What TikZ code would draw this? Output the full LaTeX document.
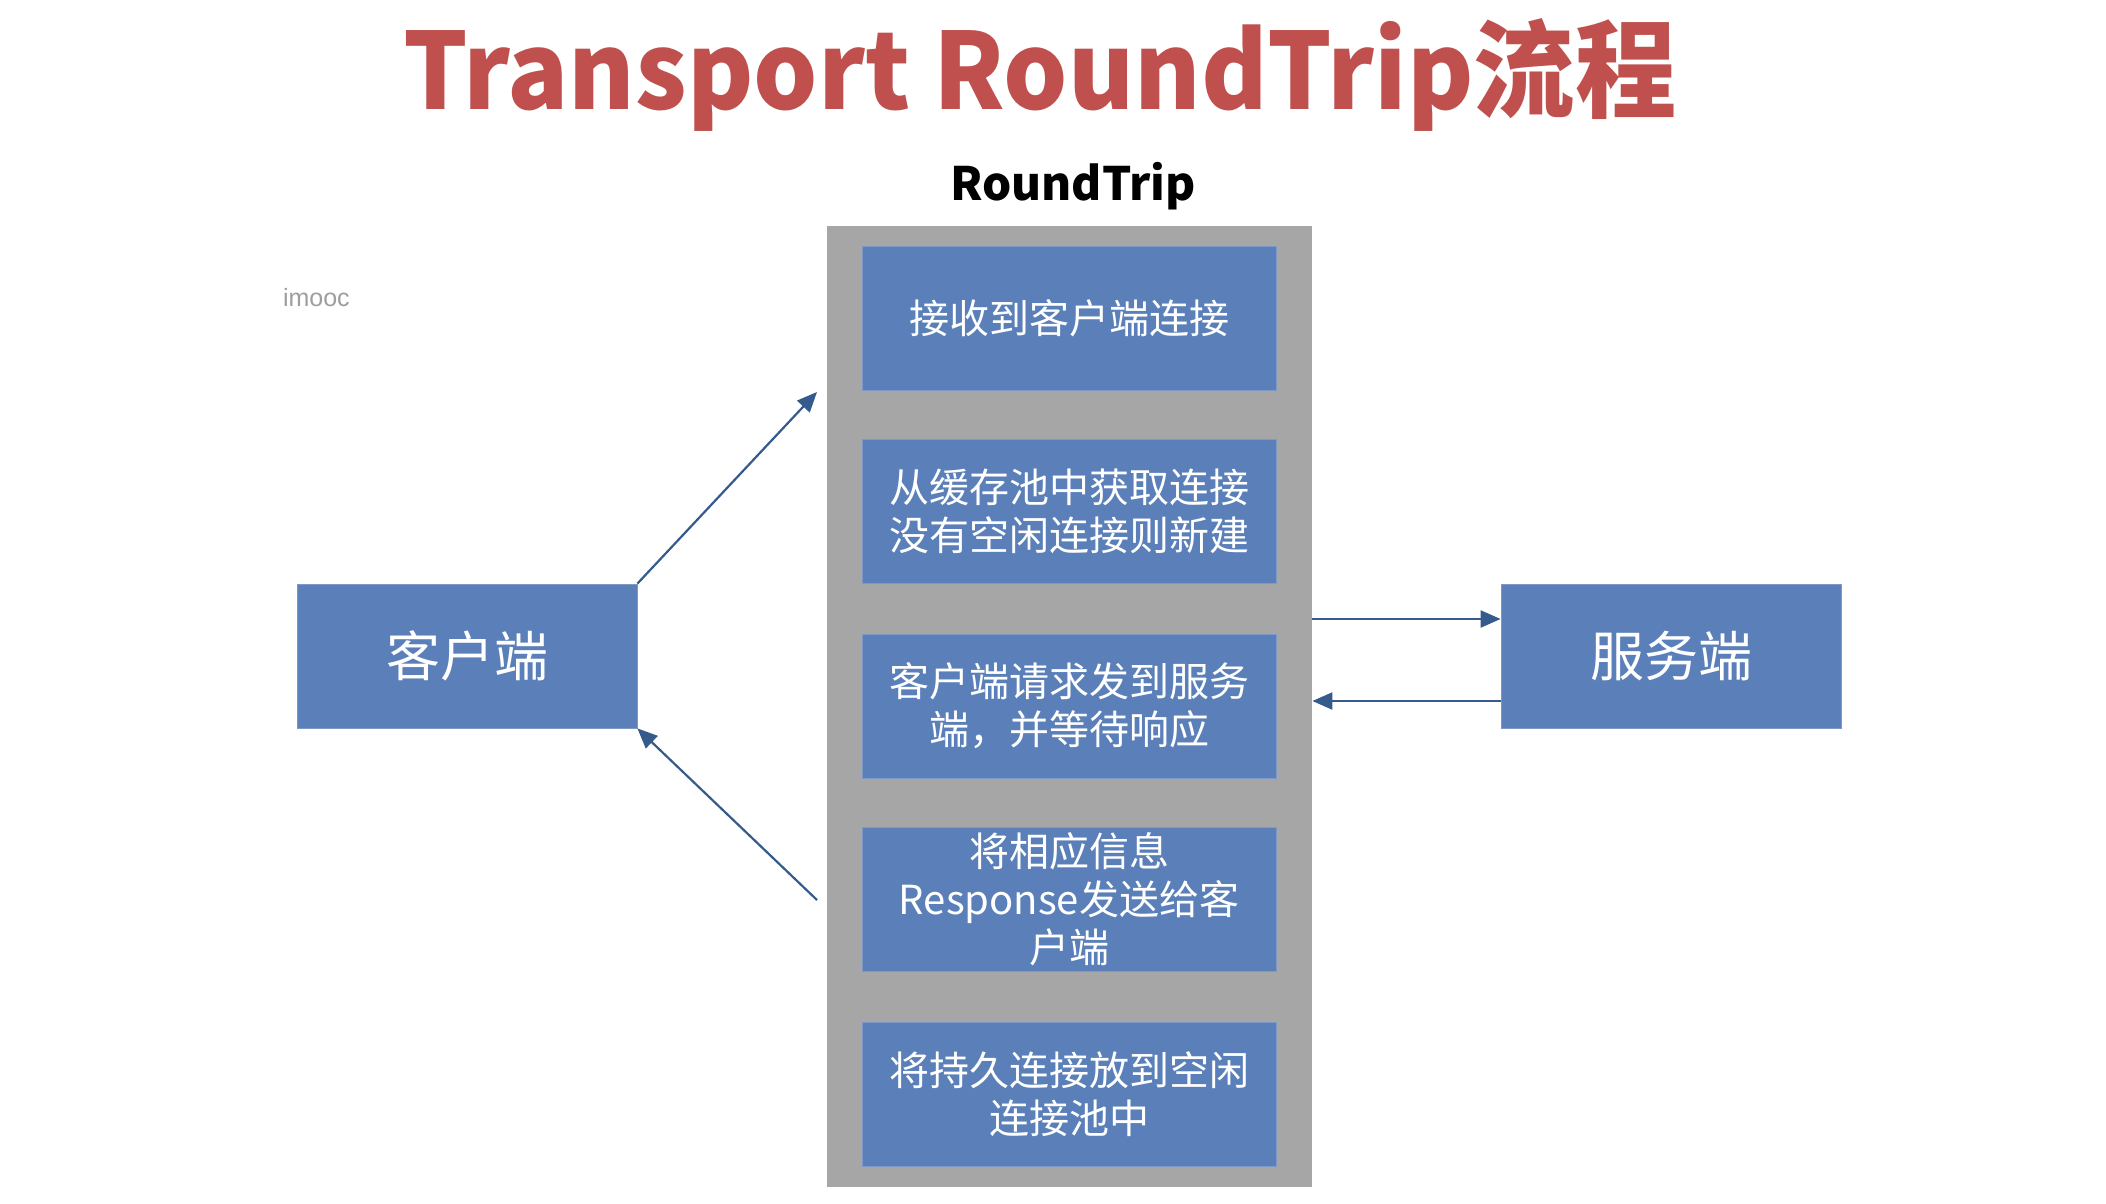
\documentclass[tikz,border=0pt]{standalone}
\usepackage{fontspec}
\setmainfont{Noto Sans CJK SC}
\newfontfamily\wmfont{Liberation Sans}
\usetikzlibrary{arrows.meta}
\definecolor{boxblue}{RGB}{91,128,185}
\definecolor{poolgray}{RGB}{166,166,166}
\definecolor{arrowblue}{RGB}{52,91,140}
\definecolor{titlered}{RGB}{192,80,77}
\begin{document}
\begin{tikzpicture}[x=0.5pt,y=-0.5pt,
  stepbox/.style={fill=boxblue, draw=boxblue!80!white, line width=0.4pt, minimum width=207pt, minimum height=72pt, inner sep=0pt, text=white, font=\fontsize{20}{24}\selectfont, align=center},
  endbox/.style={stepbox, minimum width=170pt, font=\fontsize{27}{32}\selectfont},
  link/.style={draw=arrowblue, line width=1.1pt, -{Triangle[length=10pt,width=8.5pt]}}]
\useasboundingbox[fill=white] (0,0) rectangle (2106,1204);
\node[font=\bfseries\fontsize{53}{58}\selectfont, text=titlered, anchor=base, xscale=0.955] (title) at (1040,110) {Transport RoundTrip流程};
\node[font=\bfseries\fontsize{23}{28}\selectfont, anchor=base] (rtlabel) at (1073,200) {RoundTrip};
\node[text=black!38, font=\wmfont\fontsize{12.5}{14}\selectfont, anchor=west] (wmk) at (276,298) {imooc};
\node[fill=poolgray, minimum width=242.5pt, minimum height=480.5pt, inner sep=0pt] (rt) at (1069.5,706.5) {};
\node[stepbox] (s1) at (1069,318) {接收到客户端连接};
\node[stepbox] (s2) at (1069,511.5) {从缓存池中获取连接\\没有空闲连接则新建};
\node[stepbox] (s3) at (1069,706) {客户端请求发到服务\\端，并等待响应};
\node[stepbox] (s4) at (1069,899) {将相应信息\\Response发送给客\\户端};
\node[stepbox] (s5) at (1069,1094) {将持久连接放到空闲\\连接池中};
\node[endbox] (client) at (467,656) {客户端};
\node[endbox] (server) at (1671,656) {服务端};
\coordinate (a1) at (817,392);
\coordinate (a2) at (817,900);
\draw[link] (client.north east) -- (a1);
\draw[link] (a2) -- (client.south east);
\path ([yshift=18.5pt]server.west) coordinate (sin);
\path ([yshift=-22.5pt]server.west) coordinate (sout);
\draw[link] (rt.east |- sin) -- (sin);
\draw[link] (sout) -- (rt.east |- sout);
\end{tikzpicture}
\end{document}
